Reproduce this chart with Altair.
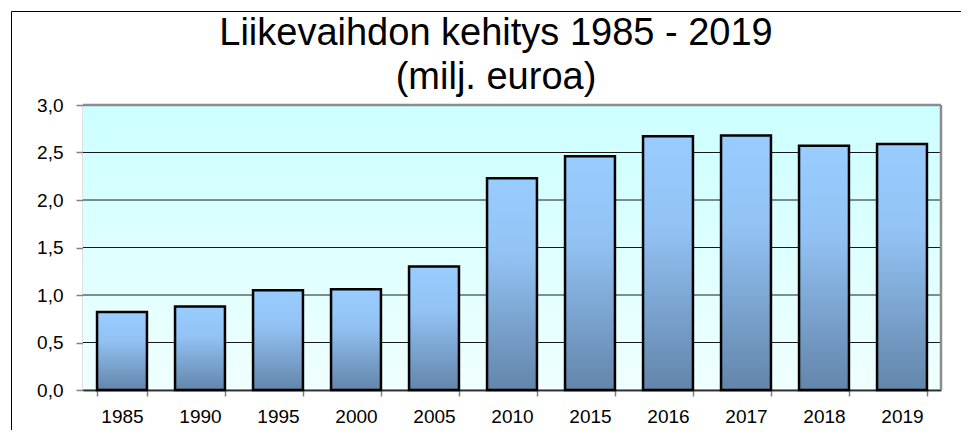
import altair as alt
import pandas as pd

years = ["1985", "1990", "1995", "2000", "2005", "2010", "2015", "2016", "2017", "2018", "2019"]
values = [0.82, 0.88, 1.05, 1.06, 1.30, 2.23, 2.46, 2.67, 2.68, 2.57, 2.59]
grid_values = [0.0, 0.5, 1.0, 1.5, 2.0, 2.5, 3.0]
title_lines = ["Liikevaihdon kehitys 1985 - 2019", "(milj. euroa)"]

df = pd.DataFrame({"year": years, "value": values})
grid_df = pd.DataFrame({"v": grid_values})
one = pd.DataFrame({"a": [0]})

W, H = 858, 285
FONT = "Liberation Sans"

bg_grad = alt.LinearGradient(
    gradient="linear", x1=0, y1=0, x2=0, y2=1,
    stops=[alt.GradientStop(offset=0, color="#ccffff"), alt.GradientStop(offset=1, color="#f0ffff")],
)
bar_grad = alt.LinearGradient(
    gradient="linear", x1=0, y1=0, x2=0, y2=1,
    stops=[alt.GradientStop(offset=0, color="#99ccff"),
           alt.GradientStop(offset=0.35, color="#93c3f5"),
           alt.GradientStop(offset=1, color="#6385aa")],
)

yscale = alt.Scale(domain=[0, 3], nice=False)
yaxis = alt.Axis(title=None, values=grid_values, grid=False,
                 labelExpr="replace(format(datum.value, '.1f'), '.', ',')",
                 tickSize=7, tickColor="#808080", tickWidth=1.5,
                 domainColor="#808080", domainWidth=1.5,
                 labelFont=FONT, labelFontSize=19, labelColor="black", labelPadding=13)

bg = alt.Chart(one).mark_rect(fill=bg_grad).encode(
    x=alt.value(0), x2=alt.value("width"), y=alt.value(0), y2=alt.value("height")
)

grid = alt.Chart(grid_df).mark_rule(color="#1a1a1a", strokeWidth=1).encode(
    y=alt.Y("v:Q", scale=yscale, axis=yaxis)
)

bars = alt.Chart(df).mark_bar(fill=bar_grad, stroke="black", strokeWidth=2.5).encode(
    x=alt.X("year:N", sort=None,
            scale=alt.Scale(paddingInner=0.36, paddingOuter=0.18),
            axis=alt.Axis(title=None, labelAngle=0, tickBand="extent", tickSize=6,
                          tickColor="#808080", tickWidth=1.5, domainColor="#444444", domainWidth=2,
                          labelFont=FONT, labelFontSize=19, labelColor="black", labelPadding=11)),
    y=alt.Y("value:Q", scale=yscale, axis=yaxis),
)

top_border = alt.Chart(one).mark_rule(color="#8c8c8c", strokeWidth=2.5).encode(
    x=alt.value(0), x2=alt.value("width"), y=alt.value(0)
)
right_border = alt.Chart(one).mark_rule(color="#8c8c8c", strokeWidth=2.5).encode(
    x=alt.value("width"), y=alt.value(0), y2=alt.value("height")
)
frame = alt.Chart(one).mark_rect(fillOpacity=0, stroke="black", strokeWidth=1).encode(
    x=alt.value(-71.5), x2=alt.value(882.5), y=alt.value(-93.5), y2=alt.value(350)
)

chart = alt.layer(bg, grid, bars, top_border, right_border, frame).properties(
    width=W, height=H,
    title=alt.Title(title_lines, font=FONT, fontSize=38, fontWeight="normal", color="black",
                    lineHeight=44, anchor="middle", dx=-16, offset=-86),
    autosize=alt.AutoSizeParams(type="none"),
    padding={"left": 75, "top": 97, "right": 20, "bottom": 40},
    background="white",
).configure_view(stroke=None)

chart.save("out.html", embed_options={"renderer": "svg", "actions": False})
